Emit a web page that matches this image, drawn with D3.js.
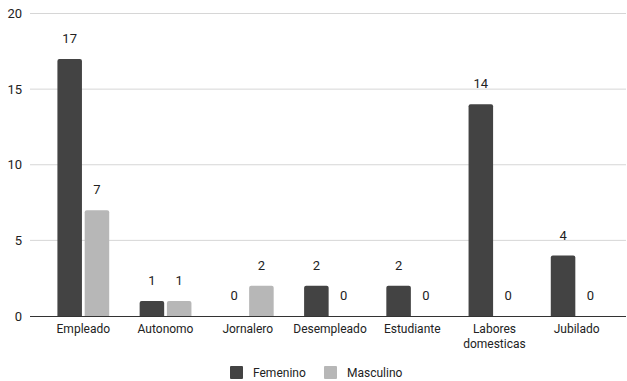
<!DOCTYPE html>
<html>
<head>
<meta charset="utf-8">
<script src="https://cdn.jsdelivr.net/npm/d3@7/dist/d3.min.js"></script>
<style>
  html, body { margin: 0; padding: 0; background: #fff; }
  svg { display: block; font-family: Roboto, Arial, sans-serif; }
</style>
</head>
<body>
<svg id="chart" width="627" height="381"></svg>
<script>
// Occupation categories (second element, if any, is the wrapped line)
const categories = ["Empleado", "Autonomo", "Jornalero", "Desempleado", "Estudiante", "Labores domesticas", "Jubilado"];
const categoryLines = [["Empleado"], ["Autonomo"], ["Jornalero"], ["Desempleado"], ["Estudiante"], ["Labores", "domesticas"], ["Jubilado"]];
const seriesNames = ["Femenino", "Masculino"];
const femenino = [17, 1, 0, 2, 2, 14, 4];
const masculino = [7, 1, 2, 0, 0, 0, 0];
const yTicks = [0, 5, 10, 15, 20];
const colors = ["#434343", "#b7b7b7"];

const svg = d3.select("#chart");
const gridLeft = 30, gridRight = 626;
const plotTop = 13.5, plotBottom = 316;

const y = d3.scaleLinear().domain([0, 20]).range([plotBottom, plotTop]);
const x0 = d3.scaleBand().domain(categories).range([42.2, 617.8])
  .paddingInner(0.37).paddingOuter(0.185);
const x1 = d3.scaleBand().domain(seriesNames).range([0, x0.bandwidth()]).paddingInner(0.1);

// Horizontal gridlines
svg.append("g").selectAll("line").data(yTicks.filter(d => d > 0)).join("line")
  .attr("x1", gridLeft).attr("x2", gridRight)
  .attr("y1", d => y(d)).attr("y2", d => y(d))
  .attr("stroke", "#d6d6d6").attr("stroke-width", 1);

// Y axis labels
const yAxis = d3.axisLeft(y).tickValues(yTicks).tickSize(0).tickPadding(0);
const yg = svg.append("g").attr("transform", "translate(22,0)").call(yAxis);
yg.select(".domain").remove();
yg.selectAll("text").attr("font-size", 13).attr("fill", "#222").attr("font-family", "Roboto, Arial, sans-serif");

// Bars
const rows = categories.map((c, i) => ({ cat: c, values: [femenino[i], masculino[i]] }));
const groups = svg.append("g").selectAll("g").data(rows).join("g")
  .attr("transform", d => `translate(${x0(d.cat)},0)`);

groups.selectAll("rect").data(d => d.values.map((v, j) => ({ s: seriesNames[j], v, j })))
  .join("rect")
  .filter(d => d.v > 0)
  .attr("x", d => x1(d.s))
  .attr("y", d => y(d.v))
  .attr("width", x1.bandwidth())
  .attr("height", d => y(0) - y(d.v) + 2)
  .attr("rx", 2)
  .attr("fill", d => colors[d.j]);

// Value labels
groups.selectAll("text.val").data(d => d.values.map((v, j) => ({ s: seriesNames[j], v })))
  .join("text").attr("class", "val")
  .attr("x", d => x1(d.s) + x1.bandwidth() / 2)
  .attr("y", d => y(d.v) - 16)
  .attr("text-anchor", "middle")
  .attr("font-size", 13).attr("fill", "#222")
  .text(d => d.v);

// Baseline (x axis)
svg.append("rect").attr("x", gridLeft).attr("y", plotBottom).attr("width", gridRight - gridLeft).attr("height", 2)
  .attr("fill", "#fff");
svg.append("line").attr("x1", gridLeft).attr("x2", gridRight)
  .attr("y1", y(0) + 0.5).attr("y2", y(0) + 0.5)
  .attr("stroke", "#333").attr("stroke-width", 1);

// Category labels
const catLabels = svg.append("g").selectAll("text").data(categories).join("text")
  .attr("x", d => x0(d) + x0.bandwidth() / 2)
  .attr("y", 333)
  .attr("text-anchor", "middle")
  .attr("font-size", 12).attr("fill", "#222");
catLabels.selectAll("tspan").data((d, i) => categoryLines[i]).join("tspan")
  .attr("x", function () { return d3.select(this.parentNode).attr("x"); })
  .attr("dy", (d, i) => i === 0 ? 0 : 15)
  .text(d => d);

// Legend
const legendItems = [
  { name: seriesNames[0], color: colors[0], x: 230 },
  { name: seriesNames[1], color: colors[1], x: 324 }
];
const lg = svg.append("g").selectAll("g").data(legendItems).join("g")
  .attr("transform", d => `translate(${d.x},366)`);
lg.append("rect").attr("width", 13).attr("height", 13).attr("rx", 1).attr("fill", d => d.color);
lg.append("text").attr("x", 23).attr("y", 11).attr("font-size", 12).attr("fill", "#222").text(d => d.name);
</script>
</body>
</html>
